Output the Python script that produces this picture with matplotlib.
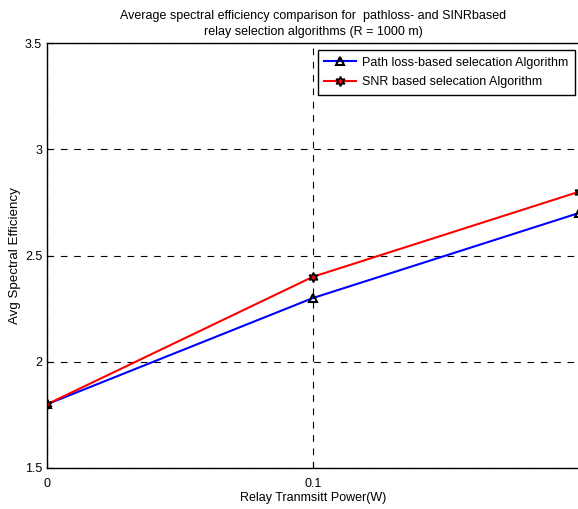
import matplotlib
matplotlib.use("Agg")
import matplotlib.pyplot as plt

plt.rcParams['font.family'] = ['Liberation Sans', 'DejaVu Sans']

power = [0, 0.1, 0.2]
pathloss_eff = [1.8, 2.3, 2.7]
snr_eff = [1.8, 2.4, 2.8]
xticks = [0, 0.1]
yticks = [1.5, 2, 2.5, 3, 3.5]

fig = plt.figure(figsize=(5.78, 5.09), dpi=100)
ax = fig.add_axes([47 / 578, 41 / 509, 532 / 578, 425 / 509])

ax.plot(power, pathloss_eff, color="blue", lw=1.5, marker="^", ms=6,
        mfc="none", mec="black", mew=1.5, label="Path loss-based selecation Algorithm")
ax.plot(power, snr_eff, color="red", lw=1.5, marker=(6, 1, 0), ms=7,
        mfc="red", mec="black", mew=1.2, label="SNR based selecation Algorithm")

ax.set_xlim(0, 0.2)
ax.set_ylim(1.5, 3.5)
ax.set_xticks(xticks)
ax.set_xticklabels(["0", "0.1"])
ax.set_yticks(yticks)
ax.set_yticklabels(["1.5", "2", "2.5", "3", "3.5"])
ax.tick_params(direction="in", labelsize=9, length=4)
ax.tick_params(axis="x", pad=7)
ax.grid(True, color="black", linestyle=(0, (6, 6)), lw=0.8)
for s in ax.spines.values():
    s.set_linewidth(1.0)

ax.set_xlabel("Relay Tranmsitt Power(W)", fontsize=9, labelpad=2)
ax.set_ylabel("Avg Spectral Efficiency", fontsize=9.6, labelpad=3)
ax.set_title("Average spectral efficiency comparison for  pathloss- and SINRbased\n"
             "relay selection algorithms (R = 1000 m)", fontsize=9, pad=6,
             linespacing=1.45)

leg = ax.legend(loc="upper right", bbox_to_anchor=(0.9925, 0.984), fontsize=9,
                fancybox=False, edgecolor="black", framealpha=1, borderaxespad=0,
                handlelength=2.5, handletextpad=0.5, labelspacing=0.62,
                borderpad=0.55)
leg.get_frame().set_linewidth(1.0)

fig.savefig("out.png", dpi=100)
